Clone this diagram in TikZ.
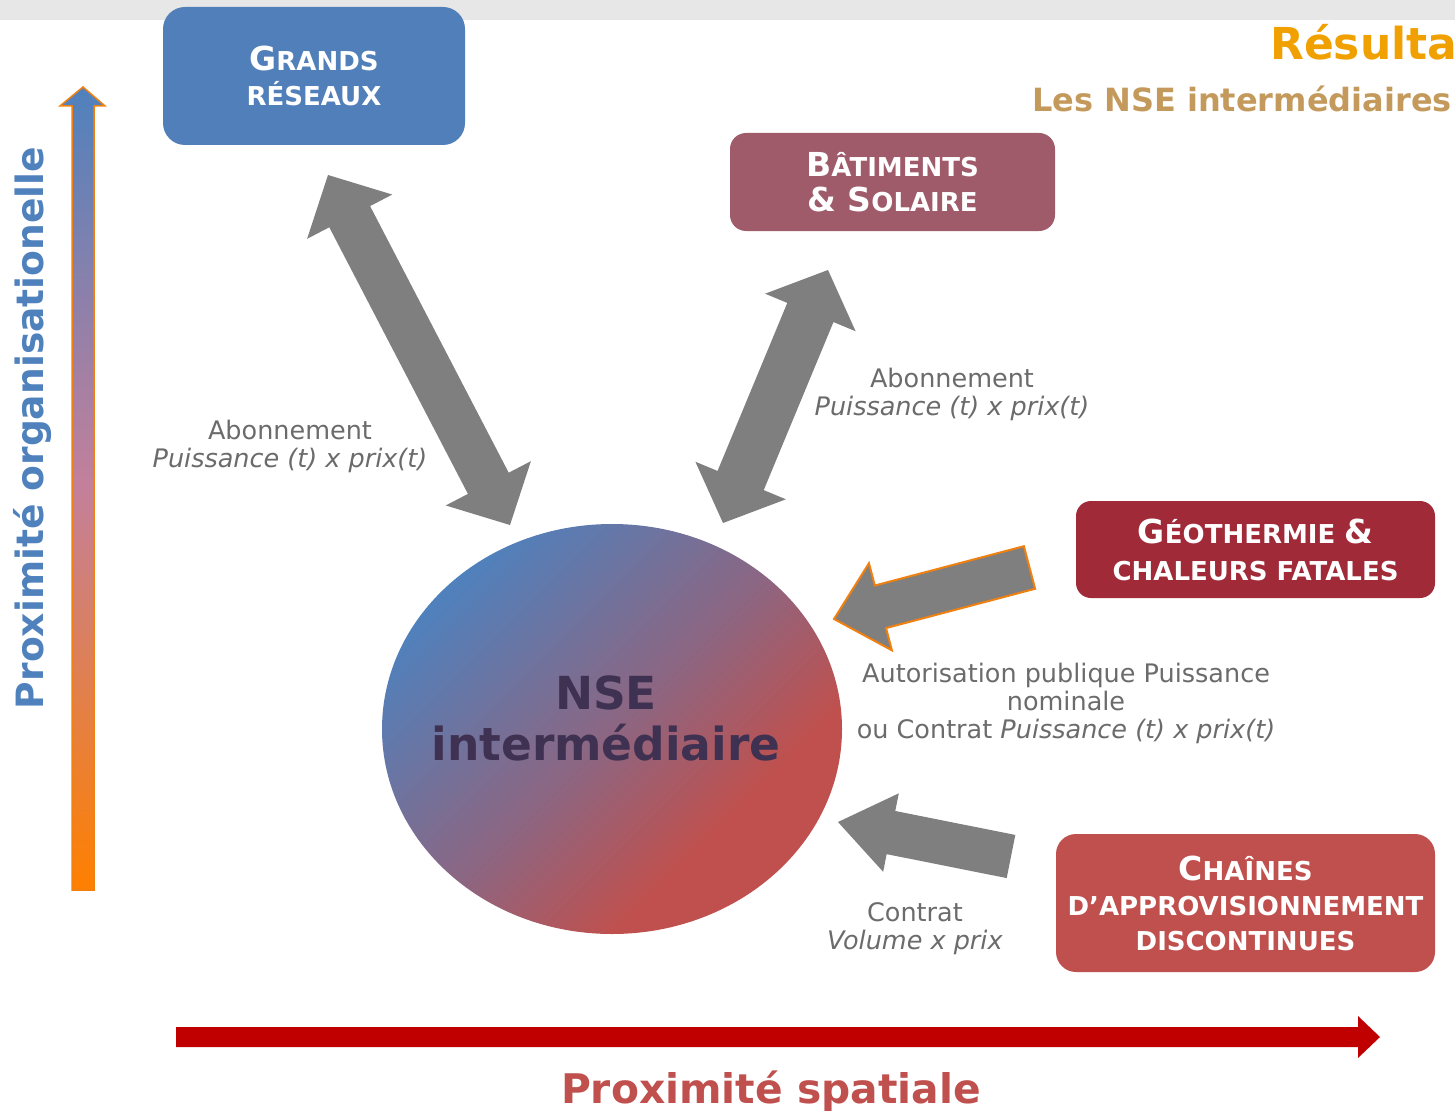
\documentclass[tikz,border=0pt]{standalone}
\usepackage{fontspec}
\setmainfont{DejaVu Sans}
\usetikzlibrary{shapes.geometric,calc}

\definecolor{bandgray}{HTML}{E7E7E7}
\definecolor{grblue}{HTML}{517FB9}
\definecolor{batmauve}{HTML}{A05B6B}
\definecolor{geored}{HTML}{A02A38}
\definecolor{chainred}{HTML}{C0504D}
\definecolor{nseblue}{HTML}{4F81BD}
\definecolor{nsemid}{HTML}{8C6682}
\definecolor{nsered}{HTML}{C0504D}
\definecolor{nsetext}{HTML}{3F3151}
\definecolor{arrowgray}{HTML}{7F7F7F}
\definecolor{labelgray}{HTML}{6B6B6B}
\definecolor{edgeorange}{HTML}{F08010}
\definecolor{axisorange}{HTML}{FF8000}
\definecolor{axismauve}{HTML}{C4809A}
\definecolor{axisred}{HTML}{C00000}
\definecolor{titleorange}{HTML}{F0A000}
\definecolor{subtan}{HTML}{C49A5C}
\definecolor{axisblue}{HTML}{4F81BD}

% blue-to-red fade of the central actor (red reached a little past the middle)
\pgfdeclareverticalshading{nsefade}{100bp}{%
  color(0bp)=(nsered); color(33bp)=(nsered); color(50bp)=(nsemid);
  color(75bp)=(nseblue); color(100bp)=(nseblue)}

% large initial capital inside a small-caps style box label
\newcommand\capA[1]{{\fontsize{33}{35}\selectfont #1}}

% double-headed block arrow between two named points:
% #1 style, #2 start, #3 end, #4 head length, #5 head half-width, #6 shaft half-width
\newcommand\blockdouble[6]{%
  \path[#1] (#2)
   -- ($(#2)!#4!(#3)!#5!90:(#3)$)
   -- ($(#2)!#4!(#3)!#6!90:(#3)$)
   -- ($(#3)!#4!(#2)!#6!-90:(#2)$)
   -- ($(#3)!#4!(#2)!#5!-90:(#2)$)
   -- (#3)
   -- ($(#3)!#4!(#2)!#5!90:(#2)$)
   -- ($(#3)!#4!(#2)!#6!90:(#2)$)
   -- ($(#2)!#4!(#3)!#6!-90:(#3)$)
   -- ($(#2)!#4!(#3)!#5!-90:(#3)$)
   -- cycle;}

% single block arrow: #1 style, #2 tail, #3 tip, #4 head length, #5 head half-width, #6 shaft half-width
\newcommand\blocksingle[6]{%
  \path[#1] ($(#2)!#6!90:(#3)$)
   -- ($(#3)!#4!(#2)!#6!-90:(#2)$)
   -- ($(#3)!#4!(#2)!#5!-90:(#2)$)
   -- (#3)
   -- ($(#3)!#4!(#2)!#5!90:(#2)$)
   -- ($(#3)!#4!(#2)!#6!90:(#2)$)
   -- ($(#2)!#6!-90:(#3)$)
   -- cycle;}

\tikzset{
  box/.style={rounded corners=18pt, text=white, align=center, inner sep=0pt,
    font=\bfseries\fontsize{26}{35}\selectfont},
  lbl/.style={text=labelgray, align=center, inner sep=0pt,
    font=\fontsize{25.5}{28}\selectfont},
  grayblock/.style={fill=arrowgray},
  outlinedblock/.style={fill=arrowgray, draw=edgeorange, line width=2pt, line join=miter},
}

\begin{document}
\begin{tikzpicture}[x=1pt, y=-1pt]
\useasboundingbox (0,0) rectangle (1455,1110);

% header band
\fill[bandgray] (0,0) rectangle (1455,20);

% titles
\node[anchor=base west, inner sep=0pt, text=titleorange,
  font=\bfseries\fontsize{44}{48}\selectfont] (title) at (1270,60) {Résulta};
\node[anchor=base east, inner sep=0pt, text=subtan,
  font=\bfseries\fontsize{32}{36}\selectfont] (subtitle) at (1452,112) {Les NSE intermédiaires};

% partner boxes
\node[box, fill=grblue, minimum width=302pt, minimum height=138pt, rounded corners=22pt]
  (gr) at (314,76) {\capA{G}RANDS\\RÉSEAUX};
\node[box, fill=batmauve, minimum width=325pt, minimum height=98pt, rounded corners=16pt]
  (bat) at (892.5,182) {\capA{B}ÂTIMENTS\\\capA{\& S}OLAIRE};
\node[box, fill=geored, minimum width=359pt, minimum height=97pt, rounded corners=15pt,
  font=\bfseries\fontsize{26}{37}\selectfont]
  (geo) at (1255.5,549.5) {\capA{G}ÉOTHERMIE \capA{\&}\\CHALEURS FATALES};
\node[box, fill=chainred, minimum width=379pt, minimum height=138pt, rounded corners=20pt]
  (ch) at (1245.5,903) {\capA{C}HAÎNES\\D’APPROVISIONNEMENT\\DISCONTINUES};

% central actor: blue towards the upper left, red towards the lower right
\node[ellipse, minimum width=460pt, minimum height=410pt, inner sep=0pt,
  shading=nsefade, shading angle=45]
  (nse) at (612,729) {};
\node[text=nsetext, align=center, inner sep=0pt,
  font=\bfseries\fontsize{45.5}{51}\selectfont] (nsetxt) at (606,718) {NSE\\intermédiaire};

% connector end points
\coordinate (gr-end)   at (328,175);
\coordinate (gr-nse)   at (510,525);
\coordinate (bat-end)  at (828,270);
\coordinate (bat-nse)  at (723,523);
\coordinate (geo-tail) at (1029.5,567.5);
\coordinate (geo-nse)  at (834,619);
\coordinate (ch-tail)  at (1011,856.5);
\coordinate (ch-nse)   at (838,822);

% exchanges with the central actor
\blockdouble{grayblock}{gr-end}{gr-nse}{47pt}{48pt}{23pt}
\blockdouble{grayblock}{bat-end}{bat-nse}{46pt}{49pt}{25pt}
\blocksingle{outlinedblock}{geo-tail}{geo-nse}{48pt}{45pt}{22pt}
\blocksingle{grayblock}{ch-tail}{ch-nse}{54pt}{40pt}{22pt}

% contract labels
\node[lbl] (lab-gr) at (290,446) {Abonnement\\\textit{Puissance (t) x prix(t)}};
\node[lbl] (lab-bat) at (952,394) {Abonnement\\\textit{Puissance (t) x prix(t)}};
\node[lbl] (lab-geo) at (1066,703) {Autorisation publique Puissance\\nominale\\ou Contrat \textit{Puissance (t) x prix(t)}};
\node[lbl] (lab-ch) at (915,929) {Contrat\\\textit{Volume x prix}};

% vertical axis: organisational proximity
\coordinate (vaxis-foot) at (83,890);
\coordinate (vaxis-tip)  at (83,87);
\shade[top color=axisblue, bottom color=axisorange, middle color=axismauve,
  draw=edgeorange, line width=1.5pt, line join=miter]
  ($(vaxis-foot)+(-11,0)$) -- ($(vaxis-tip)+(-11,19)$) -- ($(vaxis-tip)+(-23,19)$)
  -- (vaxis-tip) -- ($(vaxis-tip)+(22,19)$) -- ($(vaxis-tip)+(11,19)$)
  -- ($(vaxis-foot)+(11,0)$) -- cycle;
\node[rotate=90, inner sep=0pt, text=axisblue,
  font=\bfseries\fontsize{37.6}{40}\selectfont] (vaxis-label) at (33,428) {Proximité organisationelle};

% horizontal axis: spatial proximity
\coordinate (haxis-start) at (176,1037);
\coordinate (haxis-tip)   at (1380,1037);
\fill[axisred] ($(haxis-start)+(0,-10)$) -- ($(haxis-tip)+(-22,-10)$) -- ($(haxis-tip)+(-22,-21)$)
  -- (haxis-tip) -- ($(haxis-tip)+(-22,21)$) -- ($(haxis-tip)+(-22,10)$)
  -- ($(haxis-start)+(0,10)$) -- cycle;
\node[anchor=base, inner sep=0pt, text=chainred,
  font=\bfseries\fontsize{40.8}{44}\selectfont] (haxis-label) at (771,1103) {Proximité spatiale};
\end{tikzpicture}
\end{document}
